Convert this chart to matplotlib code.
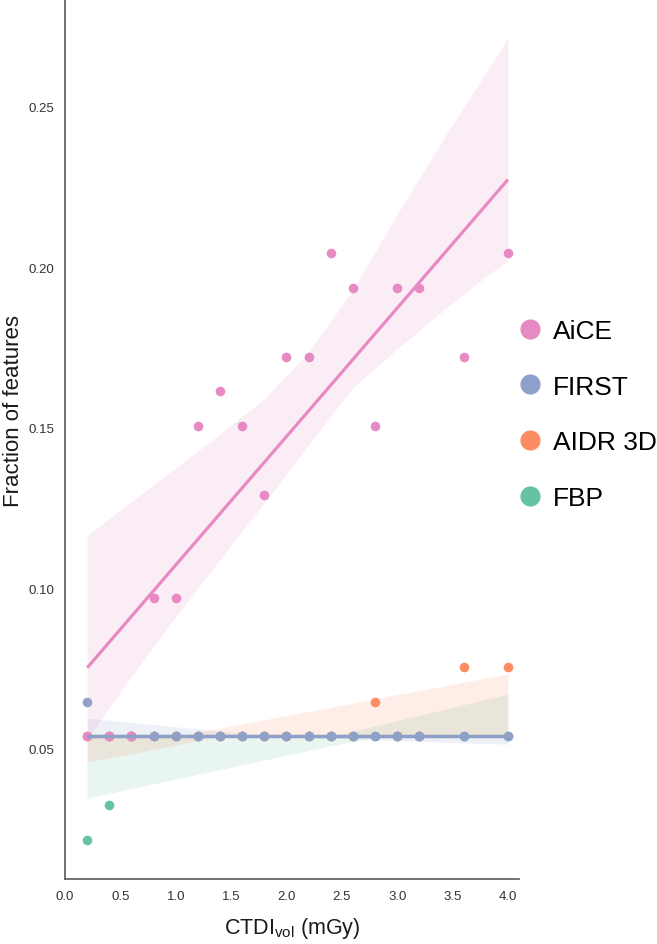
import numpy as np
import matplotlib
matplotlib.use("Agg")
import matplotlib.pyplot as plt
from matplotlib.lines import Line2D

plt.rcParams["font.family"] = ["Liberation Sans", "DejaVu Sans"]
plt.rcParams["mathtext.fontset"] = "custom"
plt.rcParams["mathtext.rm"] = "Liberation Sans"
plt.rcParams["mathtext.it"] = "Liberation Sans:italic"

# ---- data (fraction of features vs CTDIvol) ----
dose = [0.2, 0.4, 0.6, 0.8, 1.0, 1.2, 1.4, 1.6, 1.8, 2.0, 2.2, 2.4, 2.6, 2.8, 3.0, 3.2, 3.6, 4.0]
aice = [0.0538, 0.0538, 0.0538, 0.0968, 0.0968, 0.1505, 0.1613, 0.1505, 0.1290, 0.1720,
        0.1720, 0.2043, 0.1935, 0.1505, 0.1935, 0.1935, 0.1720, 0.2043]
first = [0.0645, 0.0538, 0.0538, 0.0538, 0.0538, 0.0538, 0.0538, 0.0538, 0.0538, 0.0538,
         0.0538, 0.0538, 0.0538, 0.0538, 0.0538, 0.0538, 0.0538, 0.0538]
aidr3d = [0.0538, 0.0538, 0.0538, 0.0538, 0.0538, 0.0538, 0.0538, 0.0538, 0.0538, 0.0538,
          0.0538, 0.0538, 0.0538, 0.0645, 0.0538, 0.0538, 0.0753, 0.0753]
fbp = [0.0215, 0.0323, 0.0538, 0.0538, 0.0538, 0.0538, 0.0538, 0.0538, 0.0538, 0.0538,
       0.0538, 0.0538, 0.0538, 0.0538, 0.0538, 0.0538, 0.0538, 0.0538]

# confidence bands
aice_band_x = [0.2, 0.6, 1.0, 1.4, 1.8, 2.2, 2.6, 3.0, 3.4, 3.8, 4.0]
aice_band_lo = [0.053, 0.0725, 0.091, 0.109, 0.1265, 0.1446, 0.1625, 0.1745, 0.186, 0.197, 0.202]
aice_band_hi = [0.1163, 0.127, 0.1375, 0.148, 0.159, 0.1735, 0.193, 0.2165, 0.239, 0.2605, 0.2714]
first_band_x = [0.2, 1.9, 4.0]
first_band_lo = [0.0538, 0.0538, 0.0514]
first_band_hi = [0.0595, 0.0538, 0.0538]
aidr_band_x = [0.2, 1.0, 1.4, 4.0]
aidr_band_lo = [0.0458, 0.0511, 0.0538, 0.0538]
aidr_band_hi = [0.0538, 0.0538, 0.0564, 0.0733]
fbp_band_x = [0.2, 2.4, 2.85, 4.0]
fbp_band_lo = [0.0346, 0.0509, 0.0538, 0.0538]
fbp_band_hi = [0.0538, 0.0538, 0.0575, 0.067]

series_order = ["FBP", "AIDR 3D", "FIRST", "AiCE"]
legend_order = ["AiCE", "FIRST", "AIDR 3D", "FBP"]
values = {"FBP": fbp, "AIDR 3D": aidr3d, "FIRST": first, "AiCE": aice}
bands = {
    "FBP": (fbp_band_x, fbp_band_lo, fbp_band_hi),
    "AIDR 3D": (aidr_band_x, aidr_band_lo, aidr_band_hi),
    "FIRST": (first_band_x, first_band_lo, first_band_hi),
    "AiCE": (aice_band_x, aice_band_lo, aice_band_hi),
}
colors = {"FBP": "#66c2a5", "AIDR 3D": "#fc8d62", "FIRST": "#8da0cb", "AiCE": "#e78ac3"}


def theil_sen(x, y):
    x = np.asarray(x); y = np.asarray(y)
    sl = [(y[j] - y[i]) / (x[j] - x[i]) for i in range(len(x)) for j in range(i + 1, len(x))]
    m = np.median(sl)
    return m, np.median(y - m * x)


fig = plt.figure(figsize=(6.57, 9.45), dpi=100)
ax = fig.add_axes([65 / 657, 1 - 880 / 945, (519 - 65) / 657, 880 / 945])

x = np.asarray(dose)
xs = np.linspace(min(dose), max(dose), 100)
for name in series_order:
    y = np.asarray(values[name])
    c = colors[name]
    ax.scatter(x, y, s=48, color=c, linewidths=0, zorder=1)
    if name == "AiCE":
        m, b = np.polyfit(x, y, 1)
    else:
        m, b = theil_sen(x, y)
    ax.plot(xs, m * xs + b, color=c, lw=2.3, zorder=2, solid_capstyle="butt")
    bx, blo, bhi = bands[name]
    ax.fill_between(bx, blo, bhi, color=c, alpha=0.15, linewidth=0, zorder=1)

ax.set_xlim(0, 4.1)
ax.set_ylim(0.0094, 0.2835)
ax.set_xticks([0.0, 0.5, 1.0, 1.5, 2.0, 2.5, 3.0, 3.5, 4.0])
ax.set_xticklabels([f"{v:.1f}" for v in [0.0, 0.5, 1.0, 1.5, 2.0, 2.5, 3.0, 3.5, 4.0]])
ax.set_yticks([0.05, 0.10, 0.15, 0.20, 0.25])
ax.set_yticklabels([f"{v:.2f}" for v in [0.05, 0.10, 0.15, 0.20, 0.25]])
ax.tick_params(length=0, labelsize=9.5, labelcolor="0.2", pad=8)
for s in ["top", "right"]:
    ax.spines[s].set_visible(False)
for s in ["left", "bottom"]:
    ax.spines[s].set_color("0.4")
    ax.spines[s].set_linewidth(1.3)

ax.set_xlabel("CTDI$_{\\mathrm{vol}}$ (mGy)", fontsize=15.5, labelpad=9, color="0.1")
ax.set_ylabel("Fraction of features", fontsize=16, labelpad=3, color="0.1", y=0.533)

handles = [Line2D([], [], marker="o", linestyle="none", markersize=14.5,
                  markerfacecolor=colors[n], markeredgewidth=0) for n in legend_order]
fig.legend(handles, legend_order, loc="center left", bbox_to_anchor=(519 / 657, 1 - 415.5 / 945),
           frameon=False, fontsize=19, handlelength=0.8, handletextpad=0.5,
           labelspacing=1.2, borderpad=0, borderaxespad=0)

fig.savefig("out.png", dpi=100)
